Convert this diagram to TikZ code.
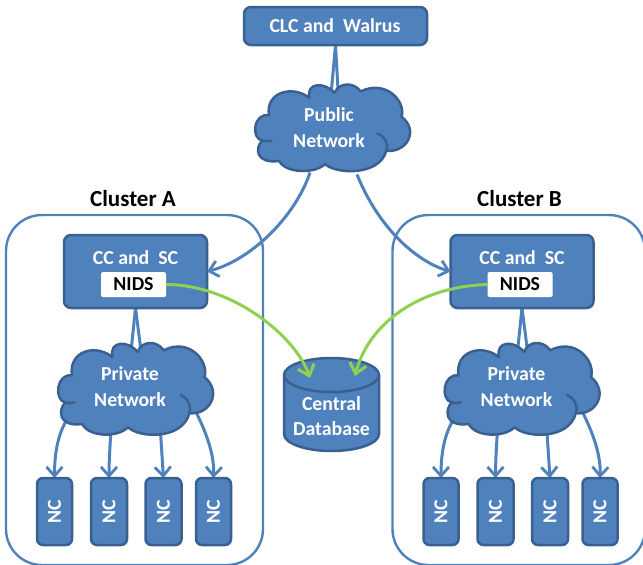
\documentclass[tikz,border=0pt]{standalone}
\usepackage{fontspec}
\setmainfont{Carlito}
\usetikzlibrary{arrows.meta,backgrounds}
\definecolor{fillblue}{HTML}{4F81BD}
\definecolor{edgeblue}{HTML}{3A6090}
\definecolor{linkblue}{HTML}{4F81BD}
\definecolor{linkgreen}{HTML}{8FD04F}
\tikzset{
  x=1pt,y=-1pt,
  every node/.style={inner sep=0pt,outer sep=0pt},
  bluebox/.style={draw=edgeblue,fill=fillblue,line width=2.5pt,rounded corners=7pt,minimum width=#1},
  boxtext/.style={text=white,font=\bfseries\fontsize{19.8}{23}\selectfont,align=center},
  clustertitle/.style={text=black,font=\bfseries\fontsize{23}{27}\selectfont},
  clusterbox/.style={draw=linkblue,line width=2.4pt,rounded corners=36pt},
  ghost/.style={minimum width=#1},
  cloudbody/.style={draw=edgeblue,fill=fillblue,line width=2.5pt,line join=round},
  plainlink/.style={draw=linkblue,line width=3pt},
  arrowlink/.style={draw=linkblue,line width=3pt,-{Straight Barb[length=9pt,width=16pt,line width=2.8pt]}},
  greenlink/.style={draw=linkgreen,line width=3pt,-{Straight Barb[length=10pt,width=17pt,line width=3pt]}},
}
\newcommand{\cloudshape}{%
  \path[cloudbody] (15.7,30) .. controls (0,28) and (-2,53) .. (9,55)
    .. controls (2,62) and (2,78) .. (25.7,75)
    .. controls (32,87) and (60,88) .. (70.7,78)
    .. controls (81,88) and (124,90) .. (130.7,65)
    .. controls (151,67) and (163,45) .. (145.7,31.7)
    .. controls (150,16) and (130,-5) .. (105.7,6.7)
    .. controls (98,-3) and (84,-2) .. (80,8.3)
    .. controls (70,-3) and (52,-2) .. (55.3,13)
    .. controls (38,0) and (12,8) .. (15.7,30) -- cycle;
  \draw[edgeblue,line width=2.5pt,line cap=round] (122,48) .. controls (130,52) and (133,58) .. (130.7,65);
  \draw[edgeblue,line width=2.5pt,line cap=round] (9,55) .. controls (12,56) and (15,56) .. (18,55);
}
\newcommand{\clusterpart}[4]{%
\begin{scope}[shift={(#2,0)}]
  \node[bluebox=143pt,minimum height=73pt] (#1cc) at (135.5,271.5) {};
  \node[boxtext] (#1cctext) at (135.5,258) {CC and\ \ SC};
  \node[fill=white,rounded corners=1.5pt,minimum width=65pt,minimum height=25pt,font=\bfseries\fontsize{19.8}{23}\selectfont,text=black] (#1nids) at (133.5,284.5) {NIDS};
  \node[ghost=155pt,minimum height=90pt,boxtext] (#1priv) at (130,387) {Private\\[3pt]Network};
  \foreach \n/\cx/\w in {1/54.5/35,2/109/36,3/163.5/36,4/213.5/35}{
    \node[bluebox=\w pt,minimum height=67pt,rounded corners=6pt] (#1nc\n) at (\cx,511.5) {};
    \node[boxtext,rotate=90] (#1nctext\n) at (\cx,511.5) {NC};
  }
  \begin{pgfonlayer}{background}
    \node[clusterbox,minimum width=#3pt,minimum height=350pt] (#1box) at (#4,390) {};
    \draw[plainlink] (#1cc.south) -- ([xshift=1.5pt,yshift=-5pt]#1priv.north);
    \draw[plainlink] (#1cc.south) -- ([xshift=10.5pt,yshift=-5pt]#1priv.north);
    \draw[arrowlink] ([xshift=-62pt,yshift=14pt]#1priv.south) .. controls +(-10,15) and +(0,-25) .. (#1nc1.north);
    \draw[arrowlink] ([xshift=-19pt,yshift=2pt]#1priv.south) .. controls +(-1,15) and +(0,-15) .. (#1nc2.north);
    \draw[arrowlink] ([xshift=30pt,yshift=9pt]#1priv.south) .. controls +(1,18) and +(-1,-15) .. (#1nc3.north);
    \draw[arrowlink] ([xshift=65pt,yshift=22pt]#1priv.south) .. controls +(10,20) and +(1,-25) .. (#1nc4.north);
    \begin{scope}[shift={(#1priv.north west)},xshift=3.5pt,yshift=-1pt,xscale=1.02,yscale=1.08]
      \cloudshape
    \end{scope}
  \end{pgfonlayer}
\end{scope}}
\begin{document}
\begin{tikzpicture}
\useasboundingbox (0,0) rectangle (643,565);
\clip (0,0) rectangle (643,565);
\clusterpart{a}{0}{257}{134.5}
\clusterpart{b}{386.5}{252.5}{132.25}
\node[clustertitle] (titlea) at (133,199) {Cluster A};
\node[clustertitle] (titleb) at (519.5,199) {Cluster B};
\node[bluebox=183pt,minimum height=38pt] (clc) at (335.5,26) {};
\node[boxtext] (clctext) at (335,26) {CLC and\ \ Walrus};
\node[ghost=156pt,minimum height=87pt,boxtext] (pub) at (329,128) {Public\\[3pt]Network};
\begin{pgfonlayer}{background}
  \draw[plainlink] (clc.south) -- ([xshift=2.5pt,yshift=-5pt]pub.north);
  \draw[plainlink] (clc.south) -- ([xshift=9pt,yshift=-5pt]pub.north);
  \begin{scope}[shift={(pub.north west)},xshift=2pt,xscale=1.02,yscale=1.02]
    \cloudshape
  \end{scope}
\end{pgfonlayer}
\draw[arrowlink] ([xshift=-19pt,yshift=-1pt]pub.south) .. controls +(-15,45) and +(43,-11) .. (acc.east);
\draw[arrowlink] ([xshift=28pt,yshift=-3pt]pub.south) .. controls +(23,57) and +(-31,-9) .. (bcc.west);
\node[minimum width=95pt,minimum height=93pt] (db) at (331.5,404.5) {};
\begin{scope}[shift={(db.center)}]
  \path[cloudbody] (-47.5,-29.5) -- (-47.5,29.5) .. controls (-47.5,39) and (-26,46.5) .. (0,46.5)
    .. controls (26,46.5) and (47.5,39) .. (47.5,29.5) -- (47.5,-29.5)
    .. controls (47.5,-39) and (26,-46.5) .. (0,-46.5)
    .. controls (-26,-46.5) and (-47.5,-39) .. (-47.5,-29.5) -- cycle;
  \draw[edgeblue,line width=2.5pt] (-47.5,-29.5) .. controls (-47.5,-20) and (-26,-12.5) .. (0,-12.5)
    .. controls (26,-12.5) and (47.5,-20) .. (47.5,-29.5);
\end{scope}
\node[boxtext] (dbtext) at (331.5,416) {Central\\[2pt]Database};
\draw[greenlink] (anids.east) .. controls +(65,0) and +(-15,-43) .. ([xshift=-21.5pt,yshift=-20pt]db.north);
\draw[greenlink] (bnids.west) .. controls +(-70,2) and +(13,-51) .. ([xshift=23.5pt,yshift=-18pt]db.north);
\end{tikzpicture}
\end{document}
